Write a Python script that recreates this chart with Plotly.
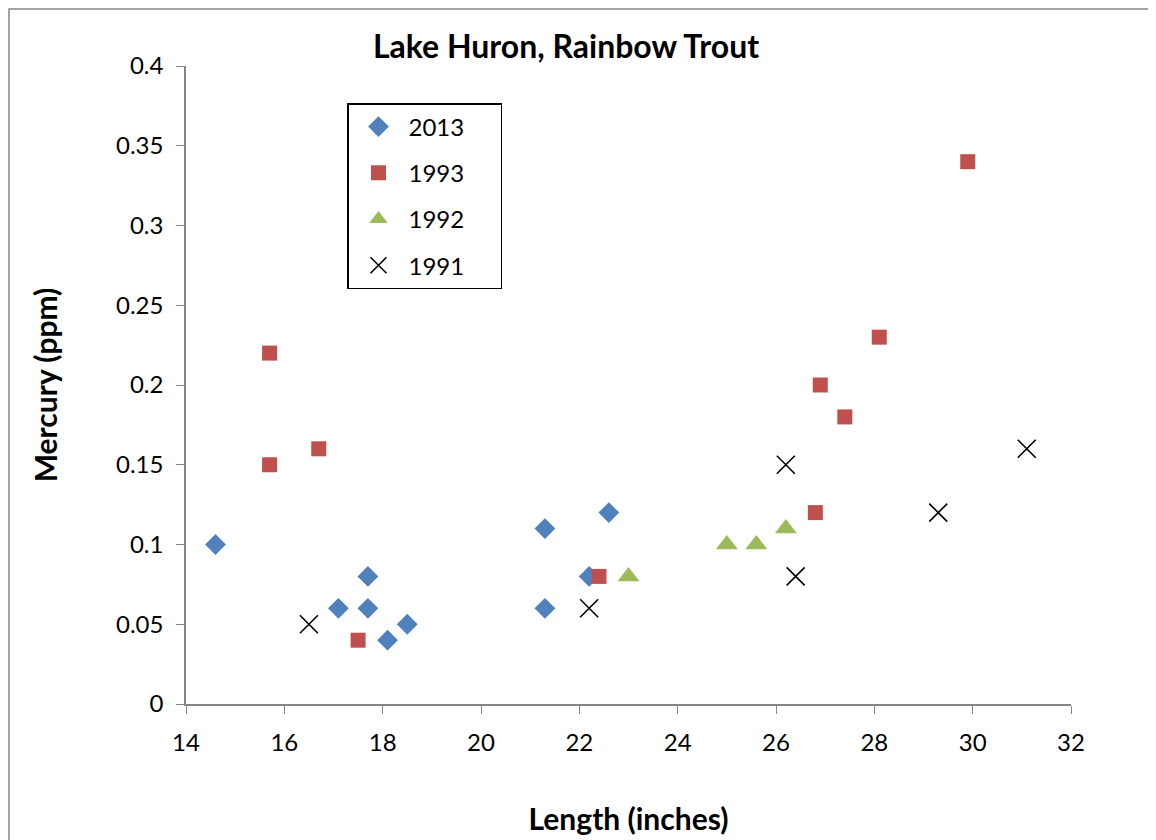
import plotly.graph_objects as go

x_2013 = [14.6, 17.1, 17.7, 17.7, 18.1, 18.5, 21.3, 21.3, 22.2, 22.6]
y_2013 = [0.10, 0.06, 0.08, 0.06, 0.04, 0.05, 0.11, 0.06, 0.08, 0.12]

x_1993 = [15.7, 15.7, 16.7, 17.5, 22.4, 26.8, 26.9, 27.4, 28.1, 29.9]
y_1993 = [0.22, 0.15, 0.16, 0.04, 0.08, 0.12, 0.20, 0.18, 0.23, 0.34]

x_1992 = [23.0, 25.0, 25.6, 26.2]
y_1992 = [0.08, 0.10, 0.10, 0.11]

x_1991 = [16.5, 22.2, 26.2, 26.4, 29.3, 31.1]
y_1991 = [0.05, 0.06, 0.15, 0.08, 0.12, 0.16]

x_ticks = [14, 16, 18, 20, 22, 24, 26, 28, 30, 32]
y_ticks = [0, 0.05, 0.1, 0.15, 0.2, 0.25, 0.3, 0.35, 0.4]
y_tick_text = ["0", "0.05", "0.1", "0.15", "0.2", "0.25", "0.3", "0.35", "0.4"]

FONT = "Lato, 'Open Sans', sans-serif"
PAD = "\u00a0" * 5

# page body has an 8px margin; figure coordinates are offset accordingly
W, H = 1148, 832
L, T, R, B = 178, 58, 85, 136
PW = W - L - R
PH = H - T - B

fig = go.Figure()
fig.add_trace(go.Scatter(x=x_2013, y=y_2013, mode="markers", name="2013" + PAD, legendgroup="a",
                         marker=dict(symbol="diamond", size=16, color="#4F81BD")))
fig.add_trace(go.Scatter(x=x_1993, y=y_1993, mode="markers", name="1993" + PAD, legendgroup="b",
                         marker=dict(symbol="square", size=15, color="#C0504D")))
fig.add_trace(go.Scatter(x=x_1992, y=y_1992, mode="markers", name="1992" + PAD, legendgroup="c",
                         marker=dict(symbol="triangle-up", size=19, color="#9BBB59")))
fig.add_trace(go.Scatter(x=x_1991, y=y_1991, mode="markers", name="1991" + PAD, legendgroup="d",
                         marker=dict(symbol="x-thin", size=18, color="black",
                                     line=dict(width=1.6, color="black"))))

axis_common = dict(showgrid=False, zeroline=False, showline=True, linecolor="#868686",
                   linewidth=1.5, ticks="outside", tickcolor="#868686", ticklen=8,
                   ticklabelstandoff=8, automargin=False,
                   tickfont=dict(family=FONT, size=24, color="black"))

fig.update_layout(
    width=W, height=H,
    margin=dict(l=L, r=R, t=T, b=B),
    paper_bgcolor="white", plot_bgcolor="white",
    font=dict(family=FONT, color="black"),
    title=dict(text="<b>Lake Huron, Rainbow Trout</b>", x=(566 - 8) / W, xanchor="center",
               y=1 - (47 - 8) / H, yanchor="middle",
               font=dict(family=FONT, size=32, color="black")),
    xaxis=dict(range=[14, 32], tickvals=x_ticks,
               title=dict(text="<b>Length (inches)</b>", font=dict(family=FONT, size=30), standoff=54),
               **axis_common),
    yaxis=dict(range=[0, 0.4], tickvals=y_ticks, ticktext=y_tick_text,
               title=dict(text="<b>Mercury (ppm)</b>", font=dict(family=FONT, size=30), standoff=50),
               **axis_common),
    legend=dict(x=(347 - 186) / PW, y=1 - (103 - 66) / PH, xanchor="left", yanchor="top",
                bordercolor="black", borderwidth=1.5, bgcolor="white",
                font=dict(family=FONT, size=24, color="black"),
                traceorder="grouped", tracegroupgap=12, itemwidth=50),
    showlegend=True,
    shapes=[dict(type="rect", xref="paper", yref="paper",
                 x0=(1 - L) / PW, x1=(W - 2 - L) / PW,
                 y0=-0.4, y1=1 + (T - 1) / PH,
                 line=dict(color="#868686", width=1.5), fillcolor="rgba(0,0,0,0)",
                 layer="below")],
)

fig.write_html("out.html")
